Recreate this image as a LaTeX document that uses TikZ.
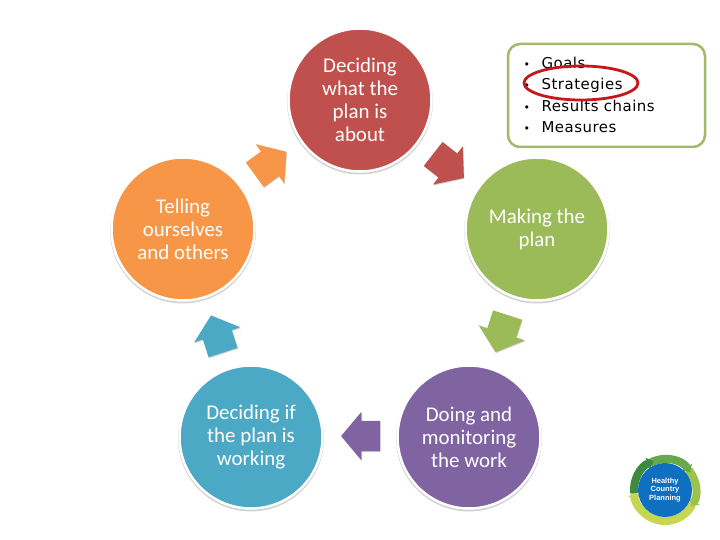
\documentclass[tikz,border=0pt]{standalone}
\usepackage{fontspec}
\setmainfont{Carlito}
\newfontfamily\listfont[LetterSpace=3.5]{DejaVu Sans}
\newfontfamily\logofont{Liberation Sans}
\usetikzlibrary{arrows.meta,shapes.arrows,shapes.geometric,shadows}
\definecolor{stepred}{HTML}{C0504D}
\definecolor{stepgreen}{HTML}{9BBB59}
\definecolor{steppurple}{HTML}{8064A2}
\definecolor{stepblue}{HTML}{4BA9C6}
\definecolor{steporange}{HTML}{F79646}
\definecolor{listgreen}{HTML}{A2B96C}
\definecolor{ringred}{HTML}{C8161D}
\definecolor{logoblue}{HTML}{0F6FC0}
\definecolor{logodark}{HTML}{3C8A3E}
\definecolor{logomid}{HTML}{67A94A}
\definecolor{logolight}{HTML}{9CC24C}
\definecolor{logoyellow}{HTML}{C6D650}
\newcommand{\listbullet}{\makebox[18bp][l]{\fontsize{11}{11}\selectfont\textbullet}}

\begin{document}
\begin{tikzpicture}[x=1bp,y=-1bp,
  stepcircle/.style={circle,draw=white,line width=2.5bp,minimum size=143bp,inner sep=0pt,
    align=center,text=white,font=\fontsize{21}{23}\selectfont,
    drop shadow={shadow xshift=0bp,shadow yshift=-1.5bp,shadow scale=1.02,fill=black!18,opacity=1}},
  steparrow/.style={single arrow,minimum height=39bp,inner sep=0pt,text width=1bp,
    text height=15bp,text depth=15bp,
    single arrow head extend=9bp,single arrow tip angle=100,
    drop shadow={shadow xshift=0.5bp,shadow yshift=-1bp,fill=black!20,opacity=1}},
  logoarc/.style={line width=8bp,-{Triangle[length=6bp,width=12bp]}}]
\useasboundingbox (0,0) rectangle (720,540);
% circles
\node[stepcircle,fill=stepred] (about) at (360,100) {Deciding\\what the\\plan is\\about};
\node[stepcircle,fill=stepgreen] (making) at (537,229) {Making the\\plan};
\node[stepcircle,fill=steppurple] (doing) at (469,437) {Doing and\\monitoring\\the work};
\node[stepcircle,fill=stepblue] (working) at (251,437) {Deciding if\\the plan is\\working};
\node[stepcircle,fill=steporange] (telling) at (183,229) {Telling\\ourselves\\and others};
% arrows
\node[steparrow,fill=stepred,rotate=-38] (a1) at (443.5,162) {};
\node[steparrow,fill=stepgreen,rotate=-108] (a2) at (503.5,327.5) {};
\node[steparrow,fill=steppurple,rotate=180] (a3) at (367,436) {};
\node[steparrow,fill=stepblue,rotate=108] (a4) at (219,340) {};
\node[steparrow,fill=steporange,rotate=36] (a5) at (265.5,167) {};
% list
\node[draw=listgreen,line width=2.5bp,rounded corners=12bp,fill=white,minimum width=197bp,minimum height=103bp] (listbox) at (606.5,95.5) {};
\node[anchor=west,align=left,font=\listfont\fontsize{15}{21.6}\selectfont] (list) at (520,95) {%
  \listbullet Goals\\
  \listbullet Strategies\\
  \listbullet Results chains\\
  \listbullet Measures};
\node[draw=ringred,line width=2.8bp,ellipse,minimum width=114bp,minimum height=34bp] (ring) at (581,83) {};
% logo
\begin{scope}[shift={(665,490)},y=1bp]
\draw[logoarc,color=logoyellow] (-28:31bp) arc[start angle=-28,end angle=-178,radius=31bp];
\draw[logoarc,color=logolight] (40:31bp) arc[start angle=40,end angle=-32,radius=31bp];
\draw[logoarc,color=logomid] (118:31bp) arc[start angle=118,end angle=35,radius=31bp];
\draw[logoarc,color=logodark] (186:31bp) arc[start angle=186,end angle=112,radius=31bp];
\node[circle,fill=logoblue,minimum size=54bp,inner sep=0pt,align=center,text=white,
  font=\logofont\bfseries\fontsize{7.5}{8.5}\selectfont] (logo) at (0,0) {Healthy\\Country\\Planning};
\end{scope}
\end{tikzpicture}
\end{document}
